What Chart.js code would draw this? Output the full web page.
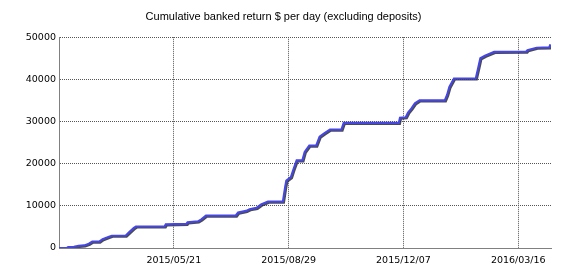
<!DOCTYPE html>
<html>
<head>
<meta charset="utf-8">
<script src="https://cdn.jsdelivr.net/npm/chart.js@4/dist/chart.umd.min.js"></script>
<style>
  html, body { margin: 0; padding: 0; background: #fff; }
  #wrap { width: 570px; height: 280px; }
</style>
</head>
<body>
<div id="wrap"><canvas id="c" width="570" height="280"></canvas></div>
<script>
// Start date of the x axis (day 0)
const startDate = '2015-02-10';
// Days since start date
const dayOffsets = [0, 7, 8, 13, 17, 22, 26, 29, 35, 38, 43, 46, 58, 61, 65, 67, 92, 93, 111, 112, 121, 124, 128, 154, 156, 163, 166, 172, 176, 182, 195, 197, 198, 202, 204, 207, 212, 214, 218, 224, 227, 231, 236, 246, 248, 296, 297, 302, 304, 307, 310, 314, 336, 338, 340, 344, 363, 365, 367, 371, 379, 407, 408, 416, 427, 428];
// Cumulative banked return ($)
const cumulativeReturn = [0, 0, 200, 300, 500, 600, 1000, 1500, 1500, 2100, 2600, 2900, 2900, 3700, 4700, 5100, 5100, 5600, 5700, 6100, 6300, 6800, 7700, 7700, 8400, 8800, 9200, 9500, 10300, 11000, 11000, 14500, 16000, 16800, 18500, 20800, 20800, 22800, 24300, 24300, 26400, 27200, 28100, 28100, 29700, 29700, 30900, 31000, 32100, 33100, 34300, 35000, 35000, 36300, 38200, 40200, 40200, 42600, 45000, 45600, 46500, 46600, 46900, 47500, 47600, 48300];
// Axis ticks
const yTicks = [0, 10000, 20000, 30000, 40000, 50000];
const xTickDays = [100, 200, 300, 400];
const xTickLabels = ['2015/05/21', '2015/08/29', '2015/12/07', '2016/03/16'];

const points = dayOffsets.map((d, i) => ({ x: d, y: cumulativeReturn[i] }));

const shadowPlugin = {
  id: 'lineShadow',
  beforeDatasetDraw(chart) {
    const ctx = chart.ctx;
    ctx.save();
    ctx.shadowColor = 'rgba(30,30,30,0.8)';
    ctx.shadowOffsetX = 1;
    ctx.shadowOffsetY = 1;
    ctx.shadowBlur = 0.5;
  },
  afterDatasetDraw(chart) {
    chart.ctx.restore();
  }
};

const tickFont = { family: 'DejaVu Sans', size: 9.5 };

new Chart(document.getElementById('c'), {
  type: 'line',
  data: {
    datasets: [{
      data: points,
      borderColor: '#4646e0',
      borderWidth: 2.2,
      pointRadius: 0,
      tension: 0,
      fill: false
    }]
  },
  options: {
    responsive: false,
    animation: false,
    devicePixelRatio: 1,
    layout: { padding: { left: 16, right: 19, top: 0, bottom: 0 } },
    plugins: {
      legend: { display: false },
      tooltip: { enabled: false },
      title: {
        display: true,
        text: 'Cumulative banked return $ per day (excluding deposits)',
        color: '#000',
        font: { family: 'Liberation Sans', size: 11, weight: 'normal' },
        padding: { top: 10, bottom: 14 }
      }
    },
    scales: {
      x: {
        type: 'linear',
        min: 0,
        max: 428.5,
        afterBuildTicks(scale) {
          scale.ticks = [{ value: 0 }].concat(xTickDays.map(v => ({ value: v })));
        },
        afterFit(scale) { scale.height = 32; },
        ticks: {
          autoSkip: false,
          maxRotation: 0,
          color: '#000',
          font: tickFont,
          padding: 7,
          callback(v) {
            const i = xTickDays.indexOf(v);
            return i >= 0 ? xTickLabels[i] : '';
          }
        },
        grid: {
          color: '#555',
          lineWidth: 1,
          drawTicks: false
        },
        border: { display: true, color: '#808080', width: 1, dash: [1, 1] }
      },
      y: {
        min: 0,
        max: 50000,
        afterBuildTicks(scale) {
          scale.ticks = yTicks.map(v => ({ value: v }));
        },
        afterFit(scale) { scale.width = 43; },
        ticks: {
          color: '#000',
          font: tickFont,
          padding: 3,
          callback(v) { return String(v); }
        },
        grid: {
          color: '#555',
          lineWidth: 1,
          drawTicks: false
        },
        border: { display: true, color: '#808080', width: 1, dash: [1, 1] }
      }
    }
  },
  plugins: [shadowPlugin]
});
</script>
</body>
</html>
